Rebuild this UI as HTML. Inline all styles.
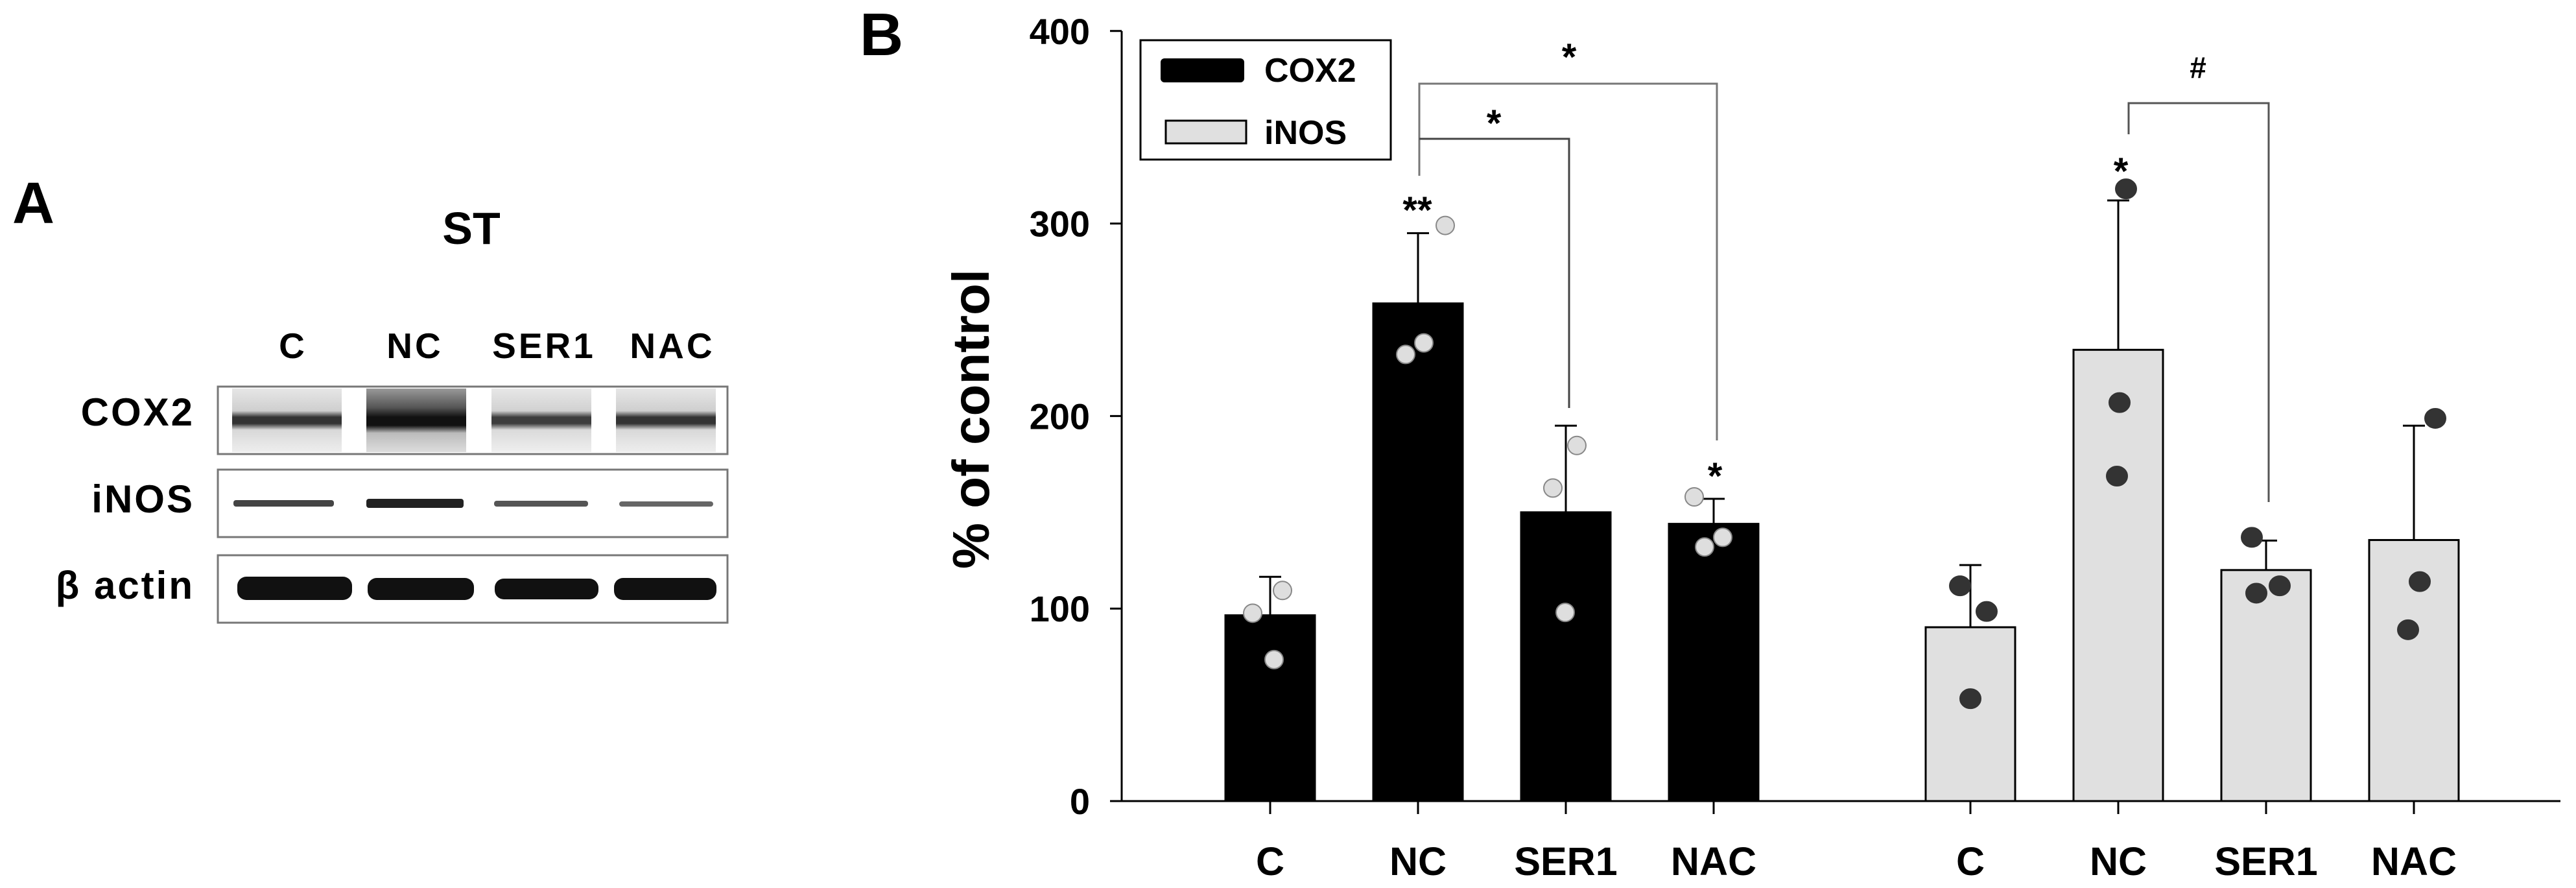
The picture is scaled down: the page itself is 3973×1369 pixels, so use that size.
<!DOCTYPE html>
<html><head><meta charset="utf-8"><style>
html,body{margin:0;padding:0;background:#fff;}
svg{display:block;}
text{font-family:"Liberation Sans",Arial,sans-serif;font-weight:bold;}
</style></head><body>
<svg id="fig" width="3973" height="1369" viewBox="0 0 3973 1369" xmlns="http://www.w3.org/2000/svg">
<defs>
<linearGradient id="cox2band" x1="0" y1="0" x2="0" y2="1">
<stop offset="0" stop-color="#e6e6e6"/><stop offset="0.35" stop-color="#cfcfcf"/><stop offset="0.45" stop-color="#333"/><stop offset="0.55" stop-color="#333"/><stop offset="0.65" stop-color="#d8d8d8"/><stop offset="1" stop-color="#eee"/>
</linearGradient>
<linearGradient id="cox2bandNC" x1="0" y1="0" x2="0" y2="1">
<stop offset="0" stop-color="#999"/><stop offset="0.3" stop-color="#555"/><stop offset="0.45" stop-color="#111"/><stop offset="0.58" stop-color="#111"/><stop offset="0.7" stop-color="#bbb"/><stop offset="1" stop-color="#ddd"/>
</linearGradient>
</defs>

<!-- Panel A -->
<g>
<text x="19" y="344" font-size="90">A</text>
<text x="727" y="376" font-size="70" text-anchor="middle">ST</text>
<g font-size="55" text-anchor="middle" letter-spacing="4">
<text x="452" y="552">C</text>
<text x="640" y="552">NC</text>
<text x="839" y="552">SER1</text>
<text x="1037" y="552">NAC</text>
</g>
<g font-size="60" text-anchor="end" letter-spacing="3">
<text x="300" y="656">COX2</text>
<text x="300" y="790">iNOS</text>
<text x="300" y="923">β actin</text>
</g>
<g>
<rect x="336" y="596" width="786" height="104" fill="#fff" stroke="#777" stroke-width="3"/>
<rect x="358" y="599" width="169" height="98" fill="url(#cox2band)"/>
<rect x="565" y="599" width="154" height="98" fill="url(#cox2bandNC)"/>
<rect x="758" y="599" width="154" height="98" fill="url(#cox2band)" opacity="0.95"/>
<rect x="950" y="599" width="154" height="98" fill="url(#cox2band)"/>
</g>
<g>
<rect x="336" y="724" width="786" height="104" fill="#fff" stroke="#777" stroke-width="3"/>
<rect x="360" y="771" width="155" height="10" fill="#444" rx="4"/>
<rect x="565" y="769" width="150" height="14" fill="#222" rx="4"/>
<rect x="762" y="772" width="145" height="9" fill="#555" rx="4"/>
<rect x="955" y="773" width="145" height="8" fill="#666" rx="4"/>
</g>
<g>
<rect x="336" y="856" width="786" height="104" fill="#fff" stroke="#777" stroke-width="3"/>
<rect x="366" y="889" width="177" height="36" fill="#111" rx="14"/>
<rect x="567" y="891" width="164" height="34" fill="#111" rx="14"/>
<rect x="763" y="892" width="160" height="32" fill="#111" rx="14"/>
<rect x="947" y="891" width="158" height="34" fill="#111" rx="14"/>
</g>
</g>

<!-- Panel B -->
<g id="panelB">
<text x="1326" y="85" font-size="93">B</text>
<text transform="translate(1525,646) rotate(-90)" font-size="80" text-anchor="middle">% of control</text>
<g id="axes"></g>
<g id="bars"></g>
<g id="points"></g>
<g id="annot">
<polyline points="2189,271 2189,129 2648,129 2648,679" fill="none" stroke="#777" stroke-width="3"/>
<polyline points="2189,214 2420,214 2420,629" fill="none" stroke="#444" stroke-width="3"/>
<polyline points="3283,207 3283,159 3499,159 3499,774" fill="none" stroke="#555" stroke-width="3"/>
<text x="2420" y="108" font-size="58" text-anchor="middle" font-weight="normal">*</text>
<text x="2304" y="210" font-size="58" text-anchor="middle" font-weight="normal">*</text>
<text x="2186" y="344" font-size="58" text-anchor="middle" font-weight="normal">**</text>
<text x="2645" y="754" font-size="58" text-anchor="middle" font-weight="normal">*</text>
<text x="3390" y="120" font-size="46" text-anchor="middle" font-weight="normal">#</text>
<text x="3271" y="284" font-size="58" text-anchor="middle" font-weight="normal">*</text>
</g>
<g>
<rect x="1759" y="62" width="386" height="184" fill="#fff" stroke="#000" stroke-width="3"/>
<rect x="1790" y="90" width="129" height="37" rx="6" fill="#000"/>
<text x="1950" y="126" font-size="52">COX2</text>
<rect x="1798" y="186" width="124" height="35" fill="#e0e0e0" stroke="#000" stroke-width="3"/>
<text x="1950" y="222" font-size="52">iNOS</text>
</g>
</g>
</svg>
<script>
const categories = ["C","NC","SER1","NAC"];
const cox2Means = [96.5, 258.5, 150, 144];
const cox2Upper = [116.5, 295, 195, 157];
const inosMeans = [90.3, 234.4, 120, 135.6];
const inosUpper = [122.6, 312, 135.3, 195];
const cox2Points = [[97.6,109.4,73.5],[232,238,299],[162.6,184.7,98],[158,132,137]];
const inosPoints = [[111.8,98.5,53.2],[318,207,168.8],[137,108,111.8],[198.8,114,89]];
const yTicks = [0,100,200,300,400];

const NS="http://www.w3.org/2000/svg";
const cox2Jit=[[-27,19,6],[-19,9,42],[-20,17,-1],[-30,-14,14]];
const inosJit=[[-16,25,0],[12,2,-2],[-22,-15,21],[33,9,-9]];
function yScale(v){return 1235 - v*2.968;}
function xCox(i){return 1959 + i*228;}
function xInos(i){return 3039 + i*228;}
function mk(tag,attrs,parent){const e=document.createElementNS(NS,tag);for(const k in attrs)e.setAttribute(k,attrs[k]);parent.appendChild(e);return e;}
const axes=document.getElementById('axes'),bars=document.getElementById('bars'),pts=document.getElementById('points');

let yl=mk('line',{x1:1730,y1:yScale(400),x2:1730,y2:1235,stroke:'#000','stroke-width':3},axes);


let xl=mk('line',{x1:1712,y1:1235,x2:3949,y2:1235,stroke:'#000','stroke-width':3},axes);


yTicks.forEach(t=>{
  const y=yScale(t);
  let tk=mk('line',{x1:1712,y1:y,x2:1730,y2:y,stroke:'#000','stroke-width':3},axes);
  
  
  let tl=mk('text',{x:1681,y:y+20,'font-size':56,'text-anchor':'end'},axes);
  tl.textContent=String(t);
  
  
});
function drawGroup(xf,means,upper,points,jit,fill,stroke,ptFill,ptStroke,rx,ry,series){
  categories.forEach((c,i)=>{
    const cx=xf(i),top=yScale(means[i]);
    let eb=mk('polyline',{points:`${cx},${top} ${cx},${yScale(upper[i])}`,stroke:'#000','stroke-width':3,fill:'none'},bars);
    
    
    let cap=mk('line',{x1:cx-17,x2:cx+17,y1:yScale(upper[i]),y2:yScale(upper[i]),stroke:'#000','stroke-width':3},bars);
    
    
    let r=mk('rect',{x:cx-69,y:top,width:138,height:1235-top,fill:fill,stroke:stroke,'stroke-width':3},bars);
    
    
    let tk=mk('line',{x1:cx,y1:1235,x2:cx,y2:1255,stroke:'#000','stroke-width':3},axes);
    
    
    let lb=mk('text',{x:cx,y:1349,'font-size':61,'text-anchor':'middle'},axes);
    lb.textContent=c;
    
    
    points[i].forEach((v,j)=>{
      let p=mk('ellipse',{cx:cx+jit[i][j],cy:yScale(v),rx:rx,ry:ry,fill:ptFill,stroke:ptStroke,'stroke-width':2},pts);
      
      
    });
  });
}
drawGroup(xCox,cox2Means,cox2Upper,cox2Points,cox2Jit,'#000','#000','#dedede','#888',14,14,'cox2');
drawGroup(xInos,inosMeans,inosUpper,inosPoints,inosJit,'#e0e0e0','#000','#333','#333',16,15,'inos');
</script>
</body></html>
